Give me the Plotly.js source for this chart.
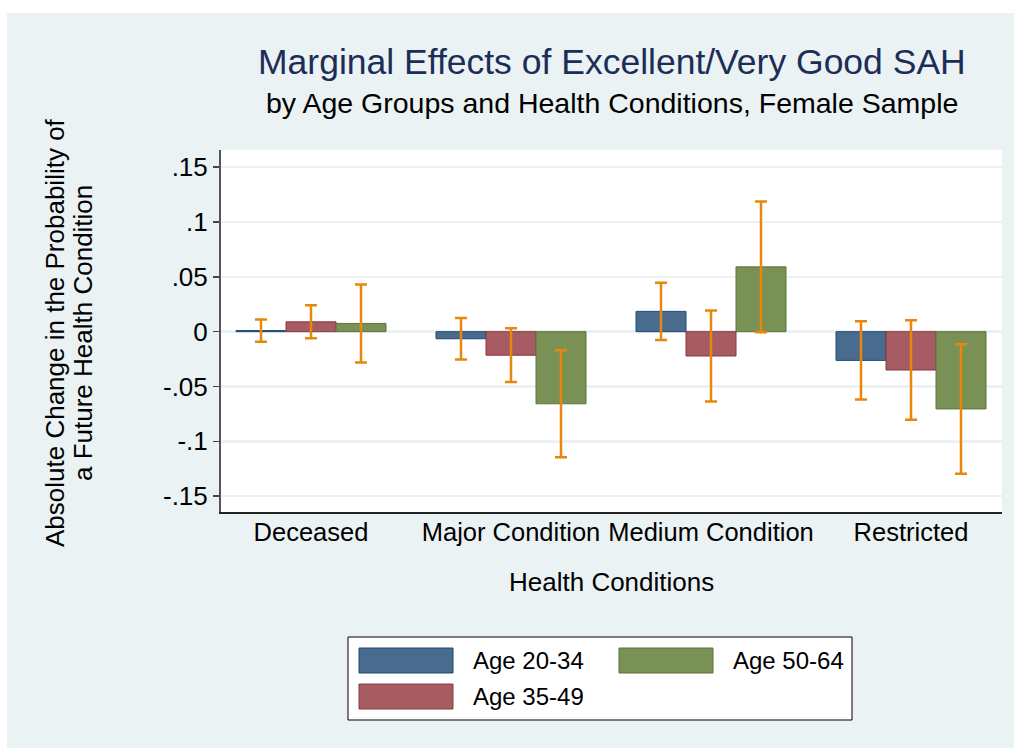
<!DOCTYPE html>
<html>
<head>
<meta charset="utf-8">
<script src="https://cdn.plot.ly/plotly-3.0.1.min.js"></script>
<style>html,body{margin:0;padding:0;background:#fff;}#chart{width:1014px;height:748px;}</style>
</head>
<body>
<div id="chart"></div>
<script>
// ---- data ----
const categories = ["Deceased", "Major Condition", "Medium Condition", "Restricted"];
const seriesNames = ["Age 20-34", "Age 35-49", "Age 50-64"];
const age2034 = [0.001, -0.0065, 0.0185, -0.0262];
const age3549 = [0.009, -0.0215, -0.0222, -0.0350];
const age5064 = [0.0075, -0.0658, 0.0591, -0.0705];
const err2034 = [0.0102, 0.0190, 0.0261, 0.0357];
const err3549 = [0.0150, 0.0245, 0.0415, 0.0453];
const err5064 = [0.0356, 0.0488, 0.0597, 0.0590];
const yTickVals = [-0.15, -0.1, -0.05, 0, 0.05, 0.1, 0.15];
const yTickText = ["-.15", "-.1", "-.05", "0", ".05", ".1", ".15"];
const titleText = "Marginal Effects of Excellent/Very Good SAH";
const subtitleText = "by Age Groups and Health Conditions, Female Sample";
const yTitleLines = ["Absolute Change in the Probability of", "a Future Health Condition"];
const xTitleText = "Health Conditions";

// ---- style ----
const fills = ["#486b8e", "#a65c62", "#7a9155"];
const edges = ["#1f4a75", "#8a3940", "#5b7538"];
const errColor = "#e8870b";
const bg = "#eaf2f3";
const font = "Liberation Sans, Arial, sans-serif";

const xIdx = categories.map((c, i) => i);
const vals = [age2034, age3549, age5064];
const errs = [err2034, err3549, err5064];

const traces = seriesNames.map((n, k) => ({
  type: "bar",
  name: n,
  x: xIdx,
  y: vals[k],
  marker: {color: fills[k], line: {color: edges[k], width: 1}},
  error_y: {type: "data", array: errs[k], visible: true, color: errColor, thickness: 2.5, width: 6},
  showlegend: false,
  hoverinfo: "x+y"
}));

// plot area in pixels: x 221..1002, y 150..512
const L = 221, R = 1002, T = 150, B = 512;
const px = v => (v - L) / (R - L);
const py = v => (B - v) / (B - T);

const shapes = [];
const annotations = [];
// white outer margins (top and left strips)
shapes.push({type: "rect", xref: "paper", yref: "paper", x0: px(0), x1: px(1014), y0: py(13), y1: py(0), fillcolor: "#ffffff", line: {width: 0}, layer: "below"});
shapes.push({type: "rect", xref: "paper", yref: "paper", x0: px(0), x1: px(7), y0: py(748), y1: py(0), fillcolor: "#ffffff", line: {width: 0}, layer: "below"});
// legend box
shapes.push({type: "rect", xref: "paper", yref: "paper", x0: px(348), x1: px(852), y0: py(720), y1: py(637), fillcolor: "#ffffff", line: {color: "#000000", width: 1}});
// legend entries (column-major, 2 columns)
const legendPos = [[359, 648], [359, 684], [619, 648]];
seriesNames.forEach((n, k) => {
  const [lx, ly] = legendPos[k];
  shapes.push({type: "rect", xref: "paper", yref: "paper", x0: px(lx), x1: px(lx + 94), y0: py(ly + 25), y1: py(ly), fillcolor: fills[k], line: {color: edges[k], width: 1}});
  annotations.push({xref: "paper", yref: "paper", x: px(lx + 112), y: py(ly + 12.5), xanchor: "left", yanchor: "middle", showarrow: false, text: n, font: {family: font, size: 24, color: "#000"}});
});
// title & subtitle
annotations.push({xref: "paper", yref: "paper", x: 0.5, y: py(62), xanchor: "center", yanchor: "middle", showarrow: false, text: titleText, font: {family: font, size: 35.5, color: "#1c2d58"}});
annotations.push({xref: "paper", yref: "paper", x: 0.5, y: py(103), xanchor: "center", yanchor: "middle", showarrow: false, text: subtitleText, font: {family: font, size: 28.5, color: "#000"}});
// y axis title (two lines, rotated)
[55, 83].forEach((cx, i) => {
  annotations.push({xref: "paper", yref: "paper", x: px(cx), y: py(333), xanchor: "center", yanchor: "middle", showarrow: false, textangle: -90, text: yTitleLines[i], font: {family: font, size: 26, color: "#000"}});
});
// x axis title
annotations.push({xref: "paper", yref: "paper", x: 0.5, y: py(582), xanchor: "center", yanchor: "middle", showarrow: false, text: xTitleText, font: {family: font, size: 26, color: "#000"}});

const layout = {
  width: 1014, height: 748,
  margin: {l: L, r: 1014 - R, t: T, b: 748 - B, pad: 0},
  paper_bgcolor: bg,
  plot_bgcolor: "#ffffff",
  barmode: "group",
  bargap: 0.25,
  bargroupgap: 0,
  showlegend: false,
  xaxis: {
    type: "linear",
    range: [-0.45, 3.455],
    tickvals: xIdx,
    ticktext: categories,
    ticks: "",
    ticklabelstandoff: -4,
    showgrid: false,
    zeroline: false,
    showline: true, linecolor: "#222", linewidth: 2,
    tickfont: {family: font, size: 25.5, color: "#000"},
    fixedrange: true
  },
  yaxis: {
    range: [-0.1645, 0.1657],
    tickvals: yTickVals,
    ticktext: yTickText,
    ticks: "outside", ticklen: 6, tickwidth: 1.5, tickcolor: "#444",
    showgrid: true, gridcolor: bg, gridwidth: 2.5,
    zeroline: false,
    showline: true, linecolor: "#555", linewidth: 2,
    tickfont: {family: font, size: 26, color: "#000"},
    fixedrange: true
  },
  shapes: shapes,
  annotations: annotations
};

Plotly.newPlot("chart", traces, layout, {displayModeBar: false, staticPlot: true});
</script>
</body>
</html>
